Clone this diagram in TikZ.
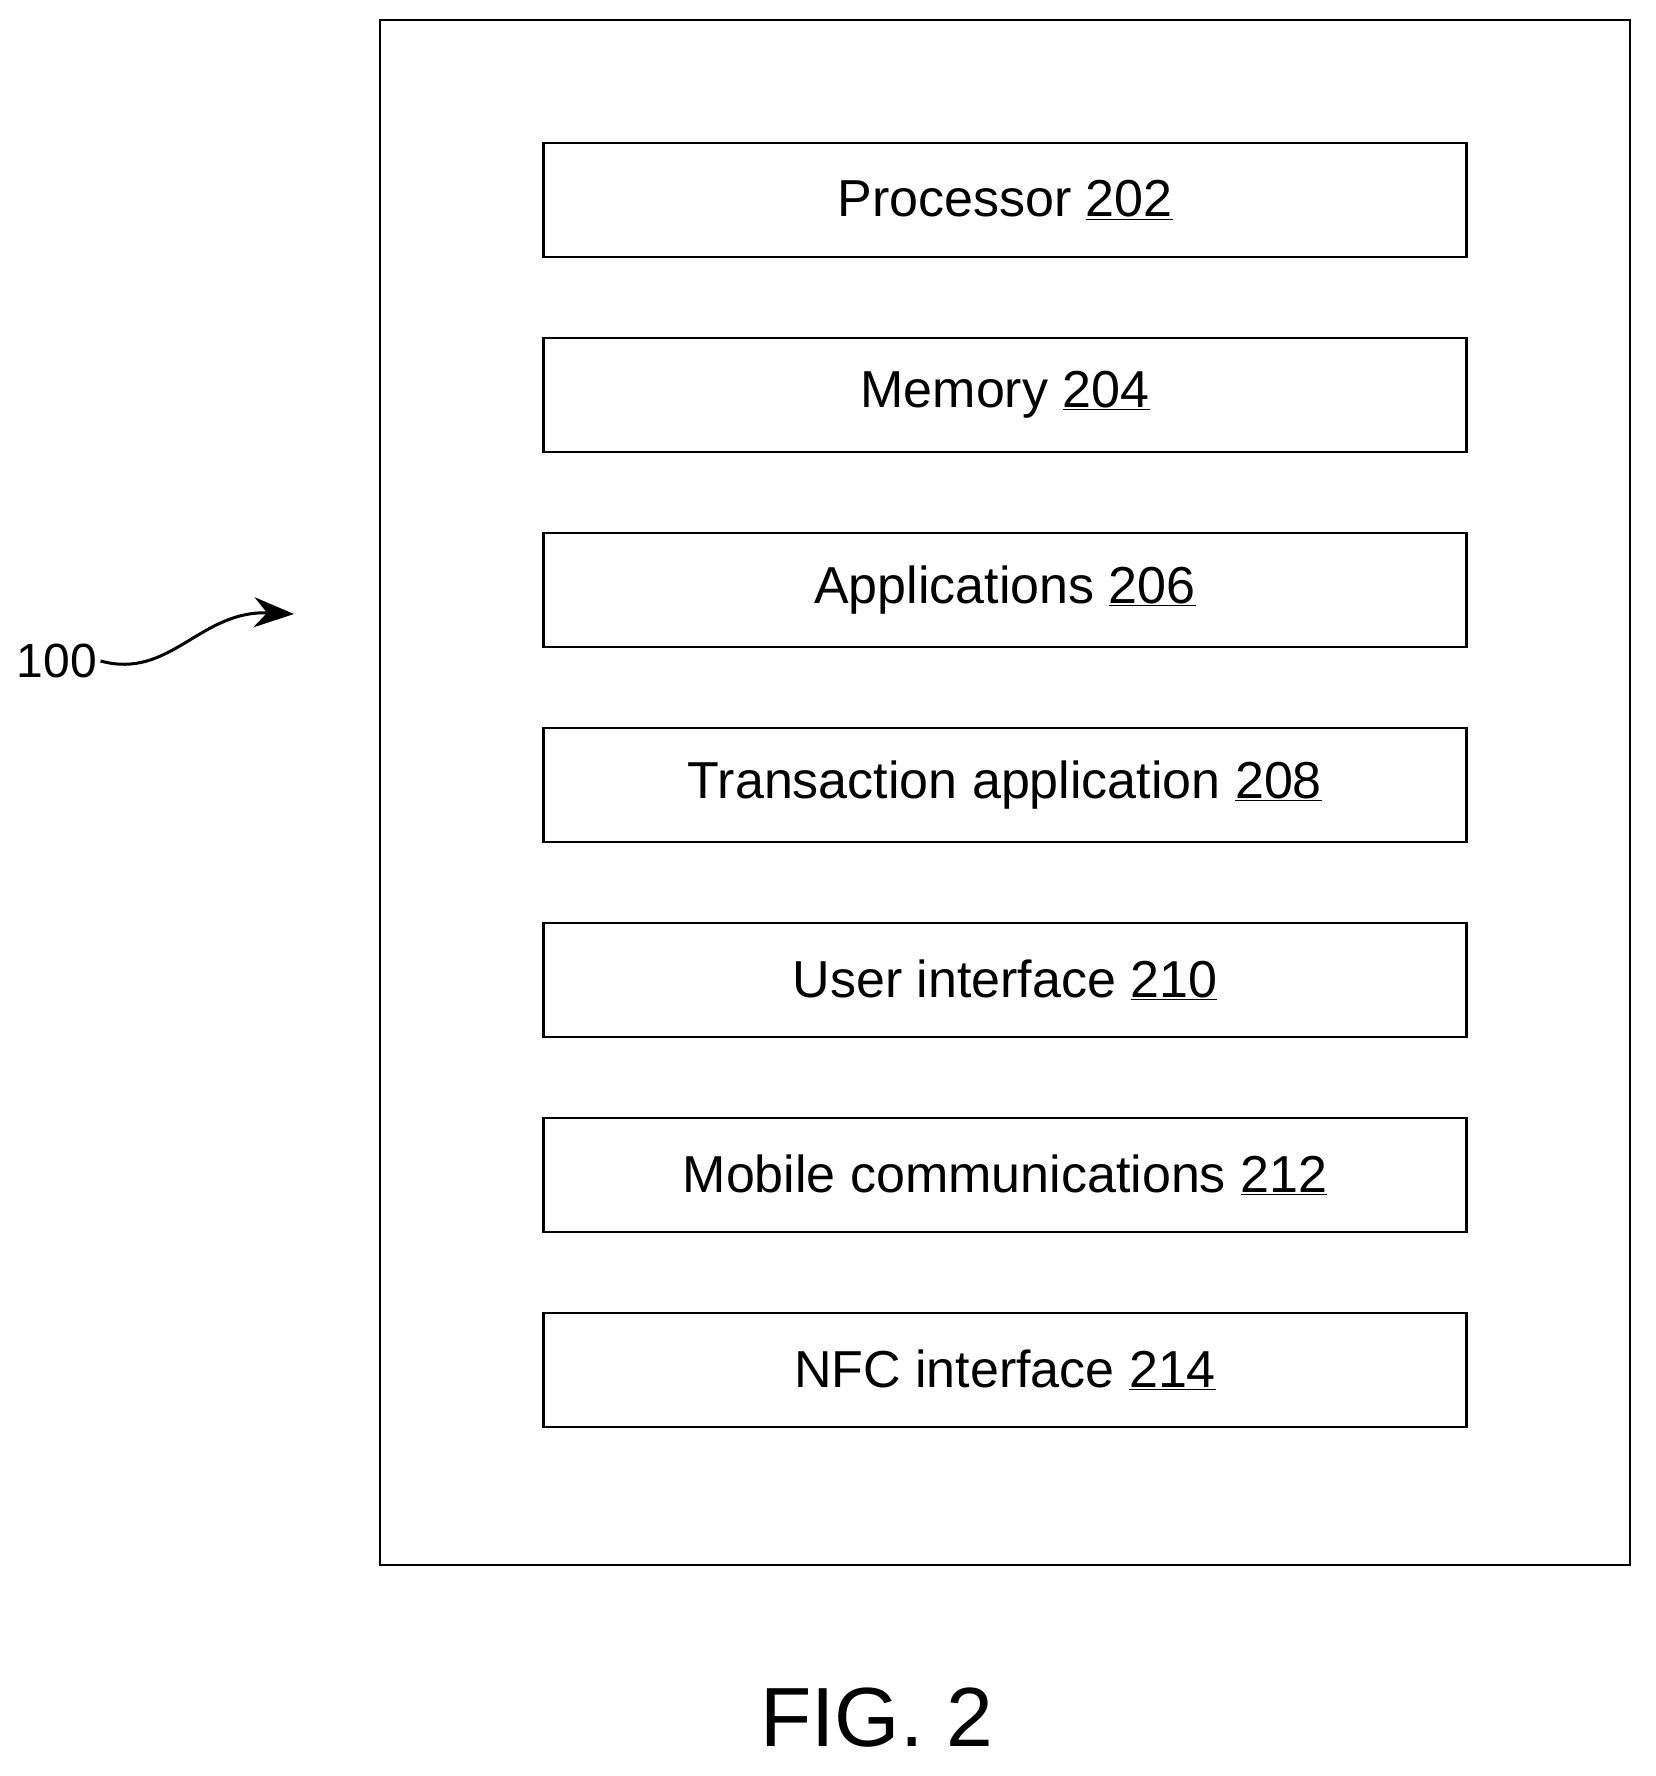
\documentclass[tikz,border=0pt]{standalone}
\usepackage{fontspec}
\setmainfont{Liberation Sans}
\usetikzlibrary{arrows.meta, positioning}
\begin{document}
\begin{tikzpicture}[
    x=1pt, y=-1pt,
    part/.style={draw, line width=2.5pt, minimum width=923pt, minimum height=114pt, inner sep=0pt, font=\fontsize{52}{60}\selectfont},
    arrow/.style={-{Stealth[length=40pt, width=30pt]}, line width=3pt}
]
    \useasboundingbox (0,0) rectangle (1655,1776);
    % Outer device
    \draw[line width=2.5pt] (380,20) rectangle (1630,1565);
    % Components
    \node[part] (proc) at (1005,200) {Processor \underline{202}};
    \node[part, below=78.5pt of proc] (mem) {Memory \underline{204}};
    \node[part, below=78.5pt of mem] (apps) {Applications \underline{206}};
    \node[part, below=78.5pt of apps] (trans) {Transaction application \underline{208}};
    \node[part, below=78.5pt of trans] (ui) {User interface \underline{210}};
    \node[part, below=78.5pt of ui] (mobile) {Mobile communications \underline{212}};
    \node[part, below=78.5pt of mobile] (nfc) {NFC interface \underline{214}};
    % Reference label
    \node[font=\fontsize{48}{56}\selectfont] (ref) at (57,661) {100};
    \coordinate (tip) at (294,614);
    \draw[arrow] (ref.east) .. controls (170,680) and (200,610) .. (tip);
    % Caption
    \node[font=\fontsize{84}{96}\selectfont] (fig) at (877,1718) {FIG. 2};
\end{tikzpicture}
\end{document}
